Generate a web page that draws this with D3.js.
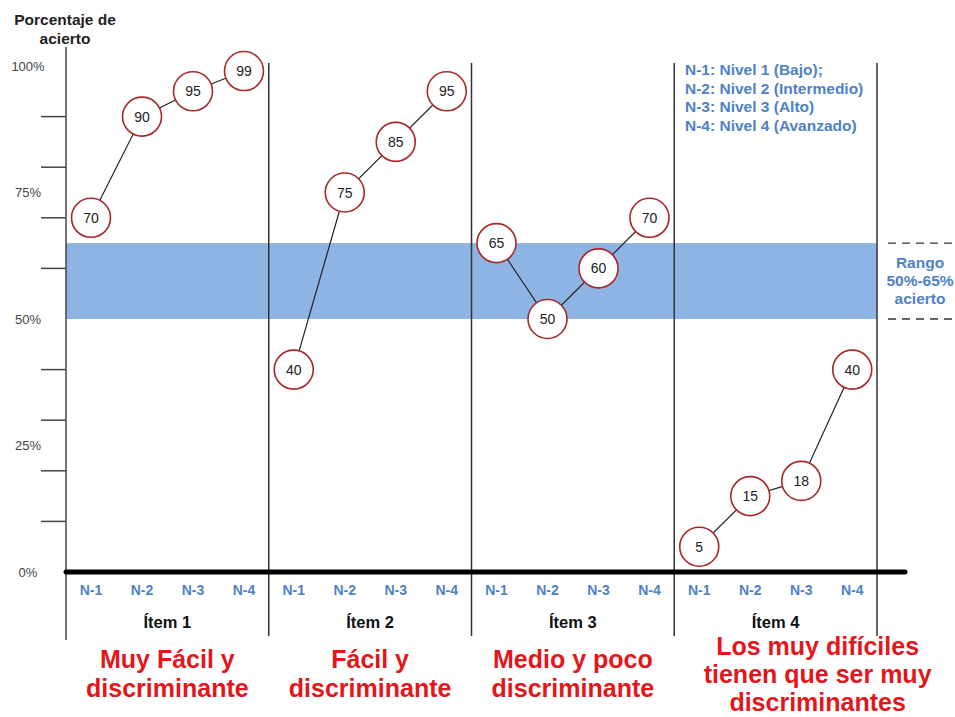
<!DOCTYPE html>
<html>
<head>
<meta charset="utf-8">
<script src="https://cdn.jsdelivr.net/npm/d3@7"></script>
<style>
  html, body { margin: 0; padding: 0; background: #fff; }
  svg { display: block; font-family: "Liberation Sans", Arial, sans-serif; }
</style>
</head>
<body>
<svg id="chart" width="955" height="717"></svg>
<script>
// Items and achievement levels
const items = ["Ítem 1", "Ítem 2", "Ítem 3", "Ítem 4"];
const levels = ["N-1", "N-2", "N-3", "N-4"];
// Percentage of correct answers per item and level
const values = [
  [70, 90, 95, 99],
  [40, 75, 85, 95],
  [65, 50, 60, 70],
  [5, 15, 18, 40]
];
const verdicts = [
  ["Muy Fácil y", "discriminante"],
  ["Fácil y", "discriminante"],
  ["Medio y poco", "discriminante"],
  ["Los muy difíciles", "tienen que ser muy", "discriminantes"]
];
const tickLabels = [0, 25, 50, 75, 100];
const minorTicks = [10, 20, 30, 40, 60, 70, 80, 90];
const band = [50, 65];
const legendLines = [
  "N-1: Nivel 1 (Bajo);",
  "N-2: Nivel 2 (Intermedio)",
  "N-3: Nivel 3 (Alto)",
  "N-4: Nivel 4 (Avanzado)"
];
const bandLabel = ["Rango", "50%-65%", "acierto"];

(function draw() {
const svg = d3.select("#chart");
const mLeft = 66, mRight = 877, mTop = 66, mBottom = 572;
const blue = "#4f81c7", red = "#e3161b", circleRed = "#a8282b";

const y = d3.scaleLinear().domain([0, 100]).range([mBottom, mTop]);
const xItem = d3.scaleBand().domain(items).range([mLeft, mRight]);
const xLevel = d3.scalePoint().domain(levels).range([25, 178]);
const cx = (i, j) => xItem(items[i]) + xLevel(levels[j]);

// Target range band
svg.append("rect")
  .attr("x", mLeft).attr("width", mRight - mLeft)
  .attr("y", y(band[1])).attr("height", y(band[0]) - y(band[1]))
  .attr("fill", "#8db4e2");

// Dashed guides next to the band
band.forEach(v => {
  svg.append("line")
    .attr("x1", 888).attr("x2", 955)
    .attr("y1", y(v)).attr("y2", y(v))
    .attr("stroke", "#333").attr("stroke-width", 1.3)
    .attr("stroke-dasharray", "8,6");
});
svg.selectAll("text.band").data(bandLabel).join("text")
  .attr("x", 920).attr("y", (d, i) => 268 + i * 18)
  .attr("text-anchor", "middle").attr("font-size", 15.5).attr("font-weight", "bold")
  .attr("fill", blue).text(d => d);

// Y axis line and minor ticks
svg.append("line").attr("x1", mLeft).attr("x2", mLeft).attr("y1", 47).attr("y2", 640)
  .attr("stroke", "#444").attr("stroke-width", 1.5);
svg.selectAll("line.minor").data(minorTicks).join("line")
  .attr("x1", 41).attr("x2", mLeft).attr("y1", d => y(d)).attr("y2", d => y(d))
  .attr("stroke", "#444").attr("stroke-width", 1.5);
svg.selectAll("text.ylab").data(tickLabels).join("text")
  .attr("x", 28).attr("y", d => y(d) + 4.5)
  .attr("text-anchor", "middle").attr("font-size", 13).attr("fill", "#444")
  .text(d => d + "%");

// Y axis title
svg.selectAll("text.ytitle").data(["Porcentaje de", "acierto"]).join("text")
  .attr("x", 65).attr("y", (d, i) => 25 + i * 19)
  .attr("text-anchor", "middle").attr("font-size", 15.5).attr("font-weight", "bold")
  .attr("fill", "#222").text(d => d);

// Item dividers
items.forEach(it => {
  const xr = xItem(it) + xItem.bandwidth();
  svg.append("line").attr("x1", xr).attr("x2", xr).attr("y1", 63).attr("y2", 636)
    .attr("stroke", "#333").attr("stroke-width", 1.5);
});

// Baseline
svg.append("line").attr("x1", mLeft).attr("x2", 905).attr("y1", mBottom).attr("y2", mBottom)
  .attr("stroke", "#000").attr("stroke-width", 5).attr("stroke-linecap", "round");

// Level labels, item labels and verdicts
items.forEach((it, i) => {
  const g = svg.append("g");
  levels.forEach((lv, j) => {
    g.append("text").attr("x", cx(i, j)).attr("y", 595)
      .attr("text-anchor", "middle").attr("font-size", 14).attr("font-weight", "bold")
      .attr("fill", blue).text(lv);
  });
  const mid = xItem(it) + xItem.bandwidth() / 2;
  g.append("text").attr("x", mid).attr("y", 628)
    .attr("text-anchor", "middle").attr("font-size", 16.5).attr("font-weight", "bold")
    .attr("fill", "#111").text(it);
  const lines = verdicts[i];
  const three = lines.length === 3;
  lines.forEach((t, k) => {
    g.append("text").attr("x", three ? mid + 42 : mid)
      .attr("y", (three ? 655 : 668) + k * (three ? 28 : 29))
      .attr("text-anchor", "middle").attr("font-size", 25).attr("font-weight", "bold")
      .attr("fill", red).text(t);
  });
});

// Legend
svg.selectAll("text.legend").data(legendLines).join("text")
  .attr("x", 685).attr("y", (d, i) => 75 + i * 18.5)
  .attr("font-size", 15.5).attr("font-weight", "bold").attr("fill", blue)
  .text(d => d);

// Lines and value circles per item
const line = d3.line().x(d => d.x).y(d => d.y);
values.forEach((row, i) => {
  const pts = row.map((v, j) => ({ x: cx(i, j), y: y(v), v }));
  svg.append("path").attr("d", line(pts)).attr("fill", "none")
    .attr("stroke", "#222").attr("stroke-width", 1.2);
  const g = svg.append("g");
  g.selectAll("circle").data(pts).join("circle")
    .attr("cx", d => d.x).attr("cy", d => d.y).attr("r", 19.5)
    .attr("fill", "#fff").attr("stroke", circleRed).attr("stroke-width", 1.6);
  g.selectAll("text").data(pts).join("text")
    .attr("x", d => d.x).attr("y", d => d.y + 5)
    .attr("text-anchor", "middle").attr("font-size", 14).attr("fill", "#222")
    .text(d => d.v);
});
})();
</script>
</body>
</html>
